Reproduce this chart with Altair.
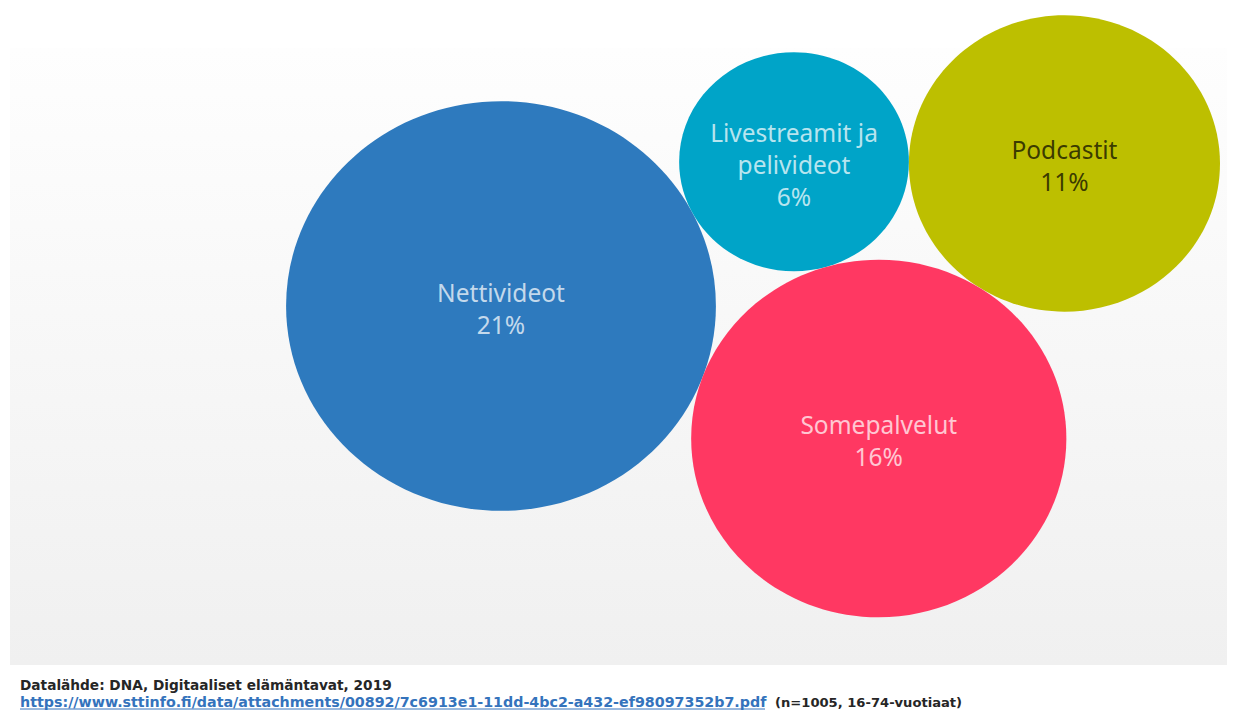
import math
import textwrap

import altair as alt
import pandas as pd

# ---- data -------------------------------------------------------------
categories = ["Nettivideot", "Livestreamit ja pelivideot", "Podcastit", "Somepalvelut"]
values = [21, 6, 11, 16]
colors = ["#2E7ABE", "#00A4C8", "#BDBF00", "#FF3862"]
source_line = "Datalähde: DNA, Digitaaliset elämäntavat, 2019"
url_text = "https://www.sttinfo.fi/data/attachments/00892/7c6913e1-11dd-4bc2-a432-ef98097352b7.pdf"
sample_text = "(n=1005, 16-74-vuotiaat)"

# ---- packed-bubble layout (radius ~ sqrt(value), circles tangent) ------
rad = {c: math.sqrt(v) for c, v in zip(categories, values)}


def tangent_third(p1, r1, p2, r2, r3, side):
    """Centre of a circle of radius r3 touching circles (p1,r1) and (p2,r2)."""
    d1, d2 = r1 + r3, r2 + r3
    dx, dy = p2[0] - p1[0], p2[1] - p1[1]
    d = math.hypot(dx, dy)
    a = (d1 * d1 - d2 * d2 + d * d) / (2 * d)
    h = math.sqrt(max(d1 * d1 - a * a, 0.0))
    ux, uy = dx / d, dy / d
    nx, ny = -uy, ux
    return (p1[0] + a * ux + side * h * nx, p1[1] + a * uy + side * h * ny)


START_ANGLE = math.radians(20.2)  # direction from the largest bubble to the second one
big, small, pod, some = categories
pos = {big: (0.0, 0.0)}
dist = rad[big] + rad[some]
pos[some] = (dist * math.cos(START_ANGLE), dist * math.sin(START_ANGLE))  # y grows downward
pos[small] = tangent_third(pos[big], rad[big], pos[some], rad[some], rad[small], -1)
pos[pod] = tangent_third(pos[small], rad[small], pos[some], rad[some], rad[pod], -1)

# ---- scales ---------------------------------------------------------------
W, H = 1219, 702
SX, SY = 46.9, 44.7          # px per layout unit (the source picture is slightly stretched)
CX, CY = 493, 298            # where the layout origin lands in the view
LH = 32                      # label line height, px
xdom = [-CX / SX, (W - CX) / SX]
ydom = [-(H - CY) / SY, CY / SY]
AR = SX / SY
ELLIPSE = f"M{-AR:.4f},0A{AR:.4f},1,0,1,1,{AR:.4f},0A{AR:.4f},1,0,1,1,{-AR:.4f},0Z"
vmax = max(values)

label_lines = [textwrap.wrap(c, 15) + [f"{v}%"] for c, v in zip(categories, values)]
df = pd.DataFrame({
    "category": categories,
    "value": values,
    "x": [pos[c][0] for c in categories],
    "y": [-pos[c][1] for c in categories],
    "label": ["\n".join(l) for l in label_lines],
})
# anchor of the first label line so that the text block is centred in the bubble
df["ly"] = df["y"] + [(len(l) - 1) * LH / 2 / SY for l in label_lines]

xs = alt.X("x:Q", scale=alt.Scale(domain=xdom, nice=False, zero=False), axis=None)
ys = alt.Y("y:Q", scale=alt.Scale(domain=ydom, nice=False, zero=False), axis=None)
lys = alt.Y("ly:Q", scale=alt.Scale(domain=ydom, nice=False, zero=False), axis=None)

one = alt.Data(values=[{}])

panel = alt.Chart(one).mark_rect(
    color=alt.Gradient(
        gradient="linear",
        x1=0, x2=0, y1=0, y2=1,
        stops=[alt.GradientStop(color="#fefefe", offset=0),
               alt.GradientStop(color="#f0f0f0", offset=1)],
    )
).encode(x=alt.value(2), x2=alt.value(1223), y=alt.value(40), y2=alt.value(657))

bubbles = alt.Chart(df).mark_point(
    shape=ELLIPSE, filled=True, opacity=1, strokeWidth=0
).encode(
    x=xs, y=ys,
    size=alt.Size("value:Q", scale=alt.Scale(domain=[0, vmax], range=[0, 4 * SY * SY * vmax]), legend=None),
    color=alt.Color("category:N", scale=alt.Scale(domain=categories, range=colors), legend=None),
)

labels = alt.Chart(df).mark_text(
    font="Noto Sans", fontSize=24.5, lineHeight=LH, lineBreak="\n",
    align="center", baseline="middle", dy=5,
).encode(
    x=xs, y=lys, text="label:N",
    color=alt.condition(alt.datum.category == "Podcastit",
                        alt.value("rgba(35,35,0,0.85)"),
                        alt.value("rgba(255,255,255,0.72)")),
)

FOOT_FONT = "DejaVu Sans"
src = alt.Chart(one).mark_text(
    text=source_line, font=FOOT_FONT, fontSize=13.7, fontWeight="bold",
    align="left", baseline="alphabetic", color="#262626",
).encode(x=alt.value(12), y=alt.value(682))

url = alt.Chart(one).mark_text(
    text=url_text, font=FOOT_FONT, fontSize=14.25, fontWeight="bold",
    align="left", baseline="alphabetic", color="#3473BC",
).encode(x=alt.value(12), y=alt.value(699))

url_line = alt.Chart(one).mark_rule(color="#3473BC", strokeWidth=1).encode(
    x=alt.value(12), x2=alt.value(757), y=alt.value(701)
)

sample = alt.Chart(one).mark_text(
    text=sample_text, font=FOOT_FONT, fontSize=13.1, fontWeight="bold",
    align="left", baseline="alphabetic", color="#262626",
).encode(x=alt.value(767), y=alt.value(699))

chart = alt.layer(panel, bubbles, labels, src, url, url_line, sample).properties(
    width=W, height=H, padding=0, autosize="none", background="white"
).configure_view(stroke=None)

chart.save("out.html", embed_options={"renderer": "svg", "actions": False})
